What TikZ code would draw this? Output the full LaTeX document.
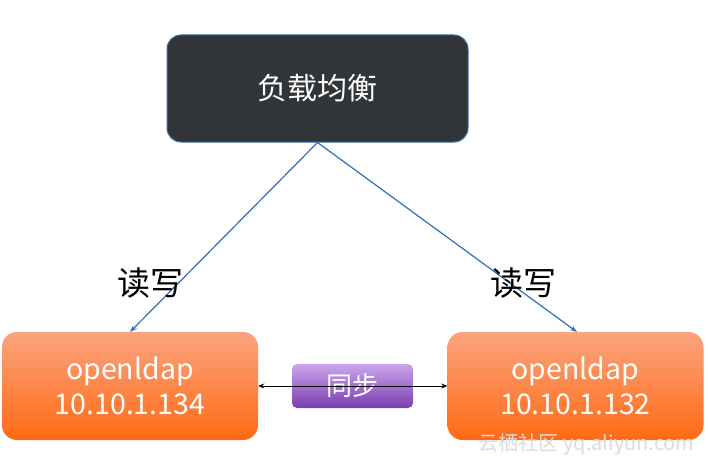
\documentclass[tikz,border=0pt]{standalone}
\usepackage{fontspec}
\setmainfont{Noto Sans CJK SC}
\newfontfamily\cjk{Noto Sans CJK SC}
\usetikzlibrary{arrows.meta}
\definecolor{darkbox}{HTML}{323538}
\definecolor{boxedge}{HTML}{3A6EA5}
\definecolor{linkblue}{HTML}{2F6FBA}
\definecolor{orangetop}{HTML}{FBA47E}
\definecolor{orangebot}{HTML}{FE6A14}
\definecolor{purpletop}{HTML}{CBA5EE}
\definecolor{purplebot}{HTML}{7A3EAF}
\tikzset{
  lbbox/.style={draw=boxedge, line width=1pt, fill=darkbox, rounded corners=14pt,
    minimum width=301pt, minimum height=107pt, text=white, font=\fontsize{30}{34}\selectfont},
  ldapbox/.style={rounded corners=15pt, top color=orangetop, bottom color=orangebot,
    minimum width=256pt, minimum height=108pt, text=white, align=center,
    font=\fontsize{28.5}{35}\selectfont},
  syncbox/.style={rounded corners=5pt, top color=purpletop, bottom color=purplebot,
    minimum width=121pt, minimum height=44pt, text=white, font=\fontsize{26}{30}\selectfont},
  rwlink/.style={draw=linkblue, line width=1.2pt, -{Stealth[length=7pt,width=5pt]}},
  synclink/.style={draw=black, line width=1pt, {Stealth[length=6pt,width=5pt]}-{Stealth[length=6pt,width=5pt]}},
  rwlabel/.style={text=black, font=\fontsize{33}{36}\selectfont},
  wmark/.style={text=black!14, font=\fontsize{20}{22}\selectfont}
}
\begin{document}
\begin{tikzpicture}[x=1pt,y=-1pt]
\useasboundingbox (0,0) rectangle (708,468);
\node[lbbox] (lb) at (317.5,88.5) {负载均衡};
\node[ldapbox] (left) at (130,386) {openldap\\10.10.1.134};
\node[ldapbox] (right) at (575.5,386) {openldap\\10.10.1.132};
\node[syncbox] (sync) at (352.5,386) {同步};
\coordinate (lend) at (130,332);
\coordinate (rend) at (577,332);
\draw[rwlink] (lb.south) -- (lend);
\draw[rwlink] (lb.south) -- (rend);
\draw[synclink] (left.east) -- (right.west);
\node[rwlabel] (rwl) at (150,283) {读写};
\node[rwlabel] (rwr) at (523,283) {读写};
\node[wmark, anchor=east] (wm) at (698,444) {云栖社区 yq.aliyun.com};
\end{tikzpicture}
\end{document}
